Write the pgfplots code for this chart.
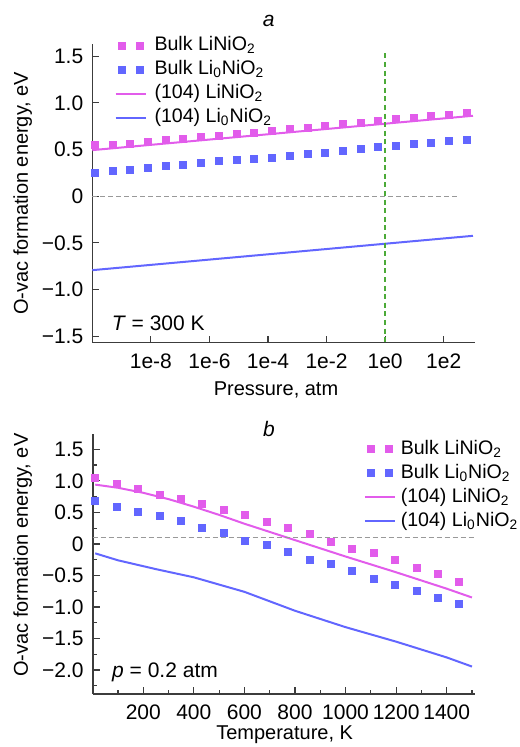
\documentclass[border=0pt]{standalone}
\usepackage{fontspec}
\setmainfont{Liberation Sans}
\usepackage{pgfplots}
\pgfplotsset{compat=1.18}

\definecolor{mag}{RGB}{226,92,235}
\definecolor{blu}{RGB}{98,102,255}
\definecolor{grn}{RGB}{76,170,56}
\definecolor{axgray}{RGB}{60,60,60}

\newcommand{\fs}{\fontsize{10.5}{12.6}\selectfont}
\newcommand{\lfs}{\fontsize{9.8}{11.8}\selectfont}

\pgfplotsset{
  panel/.style={
    scale only axis, clip=false,
    axis lines=left, axis line style={-, axgray, line width=0.8pt},
    tick align=inside, tick style={axgray, line width=0.6pt},
    major tick length=3.5pt, minor tick length=2pt,
    tick label style={font=\fs},
    label style={font=\fs},
    xticklabel style={yshift=-2pt},
    yticklabel style={xshift=-1pt},
    legend style={draw=none, fill=none, font=\lfs, inner sep=0pt,
      row sep=0pt, nodes={inner sep=1pt, text height=7.5pt, text depth=2.5pt},
      /tikz/every odd column/.append style={column sep=3pt}},
    legend cell align=left,
  },
  sq/.style={only marks, mark=square*, mark size=1.75pt,
    legend image code/.code={\draw[##1] plot coordinates {(3pt,0pt) (12pt,0pt)};}},
  ln/.style={line width=1pt,
    legend image code/.code={\draw[##1] (0pt,0pt) -- (15pt,0pt);}},
}

\begin{document}
\begin{tikzpicture}
\path[use as bounding box] (0,0) rectangle (259.5pt,373.5pt);

% panel a: pressure dependence at 300 K
\begin{axis}[panel,
  at={(46.15pt,202.15pt)}, anchor=south west,
  width=191.35pt, height=149.35pt,
  xmin=-10, xmax=3.07, ymin=-1.57, ymax=1.63,
  xtick={-8,-6,-4,-2,0,2},
  xticklabels={1e-8,1e-6,1e-4,1e-2,1e0,1e2},
  ytick={-1.5,-1,-0.5,0,0.5,1,1.5},
  yticklabels={−1.5,−1.0,−0.5,0,0.5,1.0,1.5},
  xlabel={Pressure, atm},
  ylabel={O-vac formation energy, eV},
  every axis x label/.style={at={(axis description cs:0.48,-0.158)}, anchor=center},
  every axis y label/.style={at={(axis description cs:-0.182,0.5)}, rotate=90, anchor=center},
  legend style={at={(axis description cs:0.057,1.035)}, anchor=north west},
]
\addplot[sq, mag] coordinates {
(-9.91,0.546) (-9.31,0.553) (-8.70,0.560) (-8.10,0.578) (-7.49,0.600) (-6.89,0.613)
(-6.28,0.634) (-5.68,0.645) (-5.07,0.664) (-4.47,0.678) (-3.86,0.695) (-3.26,0.717)
(-2.65,0.735) (-2.05,0.757) (-1.44,0.778) (-0.84,0.789) (-0.23,0.810) (0.37,0.832)
(0.98,0.843) (1.58,0.864) (2.19,0.875) (2.79,0.892)};
\addlegendentry{Bulk LiNiO\textsubscript{2}}
\addplot[sq, blu] coordinates {
(-9.91,0.249) (-9.31,0.268) (-8.70,0.278) (-8.10,0.300) (-7.49,0.321) (-6.89,0.332)
(-6.28,0.353) (-5.68,0.375) (-5.07,0.385) (-4.47,0.396) (-3.86,0.414) (-3.26,0.436)
(-2.65,0.457) (-2.05,0.468) (-1.44,0.489) (-0.84,0.511) (-0.23,0.532) (0.37,0.543)
(0.98,0.564) (1.58,0.575) (2.19,0.596) (2.79,0.607)};
\addlegendentry{Bulk Li\textsubscript{0}NiO\textsubscript{2}}
\addplot[ln, mag] coordinates {(-10,0.493) (3,0.861)};
\addlegendentry{(104) LiNiO\textsubscript{2}}
\addplot[ln, blu] coordinates {(-10,-0.793) (3,-0.425)};
\addlegendentry{(104) Li\textsubscript{0}NiO\textsubscript{2}}
\addplot[forget plot, gray!80, line width=0.5pt, dash pattern=on 2.5pt off 1.5pt]
  coordinates {(-10,0) (2.56,0)};
\addplot[forget plot, grn, line width=1pt, dash pattern=on 2.5pt off 1.8pt]
  coordinates {(0,1.53) (0,-1.57)};
\node[anchor=base, font=\fs\itshape] at (axis description cs:0.461,1.057) {a};
\node[anchor=west, inner sep=0pt, font=\fs] at (axis description cs:0.05,0.066) {\textit{T} = 300 K};
\end{axis}

% panel b: temperature dependence at 0.2 atm
\begin{axis}[panel,
  at={(46.35pt,26.5pt)}, anchor=south west,
  width=191.15pt, height=129.85pt,
  xmin=0, xmax=1512, ymin=-2.38, ymax=1.738,
  xtick={200,400,600,800,1000,1200,1400},
  xticklabels={200,400,600,800,1000,1200,1400},
  minor xtick={100,300,...,1500},
  ytick={-2,-1.5,-1,-0.5,0,0.5,1,1.5},
  yticklabels={−2.0,−1.5,−1.0,−0.5,0,0.5,1.0,1.5},
  minor ytick={-2.25,-1.75,-1.25,-0.75,-0.25,0.25,0.75,1.25},
  xlabel={Temperature, K},
  ylabel={O-vac formation energy, eV},
  every axis x label/.style={at={(axis description cs:0.502,-0.158)}, anchor=center},
  every axis y label/.style={at={(axis description cs:-0.183,0.535)}, rotate=90, anchor=center},
  legend style={at={(axis description cs:0.708,0.99)}, anchor=north west,
    /tikz/every odd column/.append style={column sep=1.5pt}},
]
\addplot[sq, mag] coordinates {
(10,1.041) (94.7,0.945) (179.4,0.876) (264.1,0.780) (348.8,0.707) (433.5,0.628)
(518.2,0.533) (602.9,0.454) (687.6,0.343) (772.4,0.247) (857.1,0.152) (941.8,0.035)
(1026.5,-0.076) (1111.2,-0.149) (1195.9,-0.260) (1280.6,-0.377) (1365.3,-0.482) (1450,-0.609)};
\addlegendentry{Bulk LiNiO\textsubscript{2}}
\addplot[sq, blu] coordinates {
(10,0.676) (94.7,0.580) (179.4,0.501) (264.1,0.437) (348.8,0.358) (433.5,0.247)
(518.2,0.168) (602.9,0.041) (687.6,-0.022) (772.4,-0.124) (857.1,-0.260) (941.8,-0.323)
(1026.5,-0.435) (1111.2,-0.561) (1195.9,-0.656) (1280.6,-0.752) (1365.3,-0.863) (1450,-0.958)};
\addlegendentry{Bulk Li\textsubscript{0}NiO\textsubscript{2}}
\addplot[ln, mag] coordinates {
(10,0.94) (100,0.89) (200,0.81) (300,0.71) (400,0.59) (500,0.46) (600,0.32)
(700,0.19) (800,0.06) (900,-0.07) (1000,-0.20) (1200,-0.45) (1400,-0.71) (1500,-0.85)};
\addlegendentry{(104) LiNiO\textsubscript{2}}
\addplot[ln, blu] coordinates {
(10,-0.15) (100,-0.26) (250,-0.40) (400,-0.53) (600,-0.76) (800,-1.06)
(1000,-1.32) (1200,-1.55) (1400,-1.80) (1500,-1.945)};
\addlegendentry{(104) Li\textsubscript{0}NiO\textsubscript{2}}
\addplot[forget plot, gray!80, line width=0.5pt, dash pattern=on 2.5pt off 1.5pt]
  coordinates {(0,0.1) (1512,0.1)};
\node[anchor=base, font=\fs\itshape] at (axis description cs:0.461,0.993) {b};
\node[anchor=west, inner sep=0pt, font=\fs] at (axis description cs:0.05,0.085) {\textit{p} = 0.2 atm};
\end{axis}
\end{tikzpicture}
\end{document}
